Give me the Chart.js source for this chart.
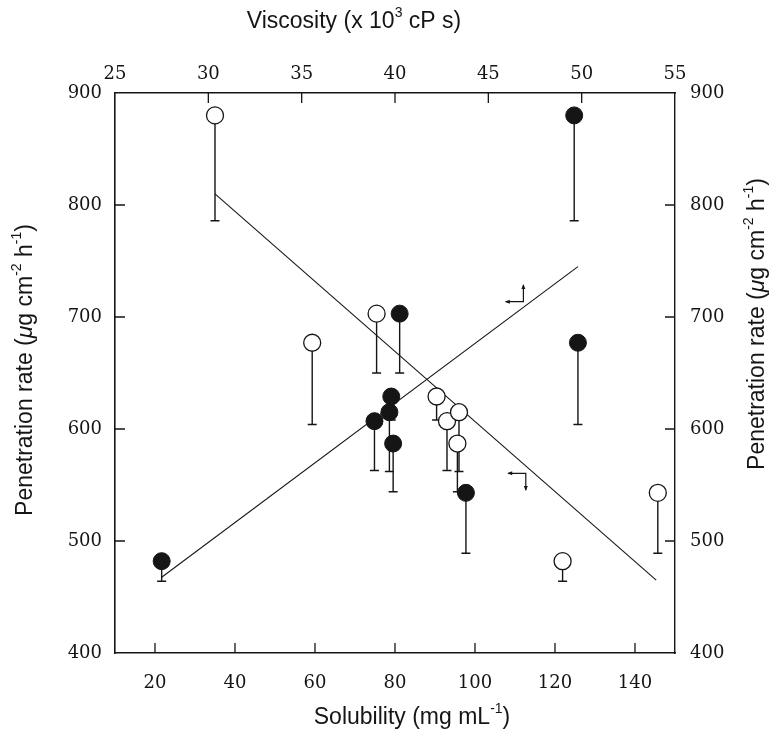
<!DOCTYPE html>
<html>
<head>
<meta charset="utf-8">
<script src="https://cdn.jsdelivr.net/npm/chart.js@4.4.1/dist/chart.umd.min.js"></script>
<style>
  html, body { margin: 0; padding: 0; background: #fff; }
  #wrap { width: 771px; height: 740px; position: relative; }
</style>
</head>
<body>
<div id="wrap"><canvas id="penChart"></canvas></div>
<script>
// Penetration rate, the same values are plotted against solubility (open) and viscosity (filled)
const rates = [880, 677, 703, 629, 607, 615, 587, 482, 543];
const rateLow = [786, 604, 650, 608, 563, 562, 544, 464, 489];   // lower end of error bar
const solubility = [35, 59.3, 75.4, 90.4, 93.0, 96.0, 95.6, 121.9, 145.7];
const viscosity = [49.6, 49.8, 40.25, 39.8, 38.9, 39.7, 39.9, 27.5, 43.8];

// fitted lines
const solFitX = [35, 145.3];
const solFitY = [810, 465];
const viscFitX = [27.5, 49.8];
const viscFitY = [467.6, 745];

// tick labels
const solTicks = [20, 40, 60, 80, 100, 120, 140];
const viscTicks = [25, 30, 35, 40, 45, 50, 55];
const rateTicks = [400, 500, 600, 700, 800, 900];

// the two little axis arrows (corner, end of horizontal leg, end of vertical leg) in solubility / rate units
const arrowMarks = [
  { cx: 112.1, cy: 713.7, hx: 107.7, vy: 728.6 },
  { cx: 112.7, cy: 560.4, hx: 108.3, vy: 545.5 }
];

const INK = '#151515';
const tickFont = { family: "'DejaVu Serif', serif", size: 18 };
const titleFamily = "'Liberation Sans', Arial, sans-serif";

function toPoints(xs, ys) {
  return xs.map((x, i) => ({ x: x, y: ys[i] }));
}

function fixedTicks(values) {
  return function (scale) {
    scale.ticks = values.map(v => ({ value: v }));
  };
}

// text with superscripts, centred on (x, y)
function drawRich(ctx, parts, x, y, rot, size) {
  ctx.save();
  ctx.translate(x, y);
  ctx.rotate(rot);
  ctx.fillStyle = INK;
  ctx.textBaseline = 'middle';
  ctx.textAlign = 'left';
  const fontOf = p => (p.it ? 'italic ' : '') + (p.sup ? Math.round(size * 0.62) : size) + 'px ' + titleFamily;
  const widths = parts.map(p => { ctx.font = fontOf(p); return ctx.measureText(p.t).width; });
  let cx = -widths.reduce((a, b) => a + b, 0) / 2;
  parts.forEach((p, i) => {
    ctx.font = fontOf(p);
    ctx.fillText(p.t, cx, p.sup ? -size * 0.38 : 0);
    cx += widths[i];
  });
  ctx.restore();
}

const errorBars = {
  id: 'errorBars',
  beforeDatasetsDraw(chart) {
    const ctx = chart.ctx;
    const y = chart.scales.y;
    ctx.save();
    ctx.strokeStyle = INK;
    ctx.lineWidth = 1.4;
    [[solubility, chart.scales.x], [viscosity, chart.scales.x2]].forEach(([xs, sx]) => {
      xs.forEach((xv, i) => {
        const px = sx.getPixelForValue(xv);
        const top = y.getPixelForValue(rates[i]);
        const bot = y.getPixelForValue(rateLow[i]);
        ctx.beginPath();
        ctx.moveTo(px, top);
        ctx.lineTo(px, bot);
        ctx.moveTo(px - 4.5, bot);
        ctx.lineTo(px + 4.5, bot);
        ctx.stroke();
      });
    });
    ctx.restore();
  }
};

const decorations = {
  id: 'decorations',
  afterDraw(chart) {
    const ctx = chart.ctx;
    const a = chart.chartArea;
    const len = 10;
    const s = chart.scales;
    ctx.save();
    ctx.strokeStyle = INK;
    ctx.lineWidth = 1.3;
    ctx.beginPath();
    s.x.ticks.forEach(t => { const p = s.x.getPixelForValue(t.value); ctx.moveTo(p, a.bottom); ctx.lineTo(p, a.bottom - len); });
    s.x2.ticks.forEach(t => {
      const p = s.x2.getPixelForValue(t.value);
      if (p > a.left + 2 && p < a.right - 2) { ctx.moveTo(p, a.top); ctx.lineTo(p, a.top + len); }
    });
    s.y.ticks.forEach(t => {
      const p = s.y.getPixelForValue(t.value);
      if (p > a.top + 2 && p < a.bottom - 2) {
        ctx.moveTo(a.left, p); ctx.lineTo(a.left + len, p);
        ctx.moveTo(a.right, p); ctx.lineTo(a.right - len, p);
      }
    });
    ctx.stroke();

    // arrows
    ctx.lineWidth = 1.2;
    arrowMarks.forEach(m => {
      const cx = s.x.getPixelForValue(m.cx), cy = s.y.getPixelForValue(m.cy);
      const hx = s.x.getPixelForValue(m.hx), vy = s.y.getPixelForValue(m.vy);
      ctx.beginPath();
      ctx.moveTo(hx, cy); ctx.lineTo(cx, cy); ctx.lineTo(cx, vy);
      ctx.stroke();
      const dir = vy < cy ? -1 : 1;
      ctx.fillStyle = INK;
      ctx.beginPath();
      ctx.moveTo(hx - 1, cy); ctx.lineTo(hx + 4, cy - 2); ctx.lineTo(hx + 4, cy + 2); ctx.closePath();
      ctx.moveTo(cx, vy + dir); ctx.lineTo(cx - 2, vy - dir * 4); ctx.lineTo(cx + 2, vy - dir * 4); ctx.closePath();
      ctx.fill();
    });
    ctx.restore();

    // axis titles
    drawRich(ctx, [{ t: 'Viscosity (x 10' }, { t: '3', sup: true }, { t: ' cP s)' }], 354, 22, 0, 23);
    drawRich(ctx, [{ t: 'Solubility (mg mL' }, { t: '-1', sup: true }, { t: ')' }], 412, 718, 0, 23);
    const rateTitle = [
      { t: 'Penetration rate (' }, { t: 'μ', it: true }, { t: 'g cm' }, { t: '-2', sup: true },
      { t: ' h' }, { t: '-1', sup: true }, { t: ')' }
    ];
    drawRich(ctx, rateTitle, 26, 370, -Math.PI / 2, 23);
    drawRich(ctx, rateTitle, 758, 324, -Math.PI / 2, 23);
  }
};

const ctx = document.getElementById('penChart').getContext('2d');
new Chart(ctx, {
  type: 'scatter',
  data: {
    datasets: [
      {
        label: 'Solubility',
        data: toPoints(solubility, rates),
        xAxisID: 'x', yAxisID: 'y',
        pointRadius: 8.5,
        pointBackgroundColor: '#fff',
        pointBorderColor: INK,
        pointBorderWidth: 1.3
      },
      {
        label: 'Viscosity',
        data: toPoints(viscosity, rates),
        xAxisID: 'x2', yAxisID: 'y',
        pointRadius: 8.5,
        pointBackgroundColor: INK,
        pointBorderColor: INK,
        pointBorderWidth: 1
      },
      {
        label: 'Solubility fit',
        data: toPoints(solFitX, solFitY),
        xAxisID: 'x', yAxisID: 'y',
        showLine: true, pointRadius: 0,
        borderColor: INK, borderWidth: 1.1
      },
      {
        label: 'Viscosity fit',
        data: toPoints(viscFitX, viscFitY),
        xAxisID: 'x2', yAxisID: 'y',
        showLine: true, pointRadius: 0,
        borderColor: INK, borderWidth: 1.1
      }
    ]
  },
  options: {
    responsive: true,
    maintainAspectRatio: false,
    animation: false,
    layout: { padding: 0 },
    plugins: { legend: { display: false }, tooltip: { enabled: false } },
    scales: {
      x: {
        type: 'linear', position: 'bottom', min: 10, max: 150,
        afterBuildTicks: fixedTicks(solTicks),
        afterFit: sc => { sc.height = 87; },
        grid: { display: false, drawTicks: false },
        border: { display: true, color: INK, width: 1.4 },
        ticks: { font: tickFont, color: INK, padding: 20, maxRotation: 0 }
      },
      x2: {
        type: 'linear', position: 'top', min: 25, max: 55,
        afterBuildTicks: fixedTicks(viscTicks),
        afterFit: sc => { sc.height = 93; },
        grid: { display: false, drawTicks: false },
        border: { display: true, color: INK, width: 1.4 },
        ticks: { font: tickFont, color: INK, padding: 8, maxRotation: 0 }
      },
      y: {
        type: 'linear', position: 'left', min: 400, max: 900,
        afterBuildTicks: fixedTicks(rateTicks),
        afterFit: sc => { sc.width = 115; },
        grid: { display: false, drawTicks: false },
        border: { display: true, color: INK, width: 1.6 },
        ticks: { font: tickFont, color: INK, padding: 13 }
      },
      y2: {
        type: 'linear', position: 'right', min: 400, max: 900,
        afterBuildTicks: fixedTicks(rateTicks),
        afterFit: sc => { sc.width = 96; },
        grid: { display: false, drawTicks: false },
        border: { display: true, color: INK, width: 1.4 },
        ticks: { font: tickFont, color: INK, padding: 15 }
      }
    }
  },
  plugins: [errorBars, decorations]
});
</script>
</body>
</html>
